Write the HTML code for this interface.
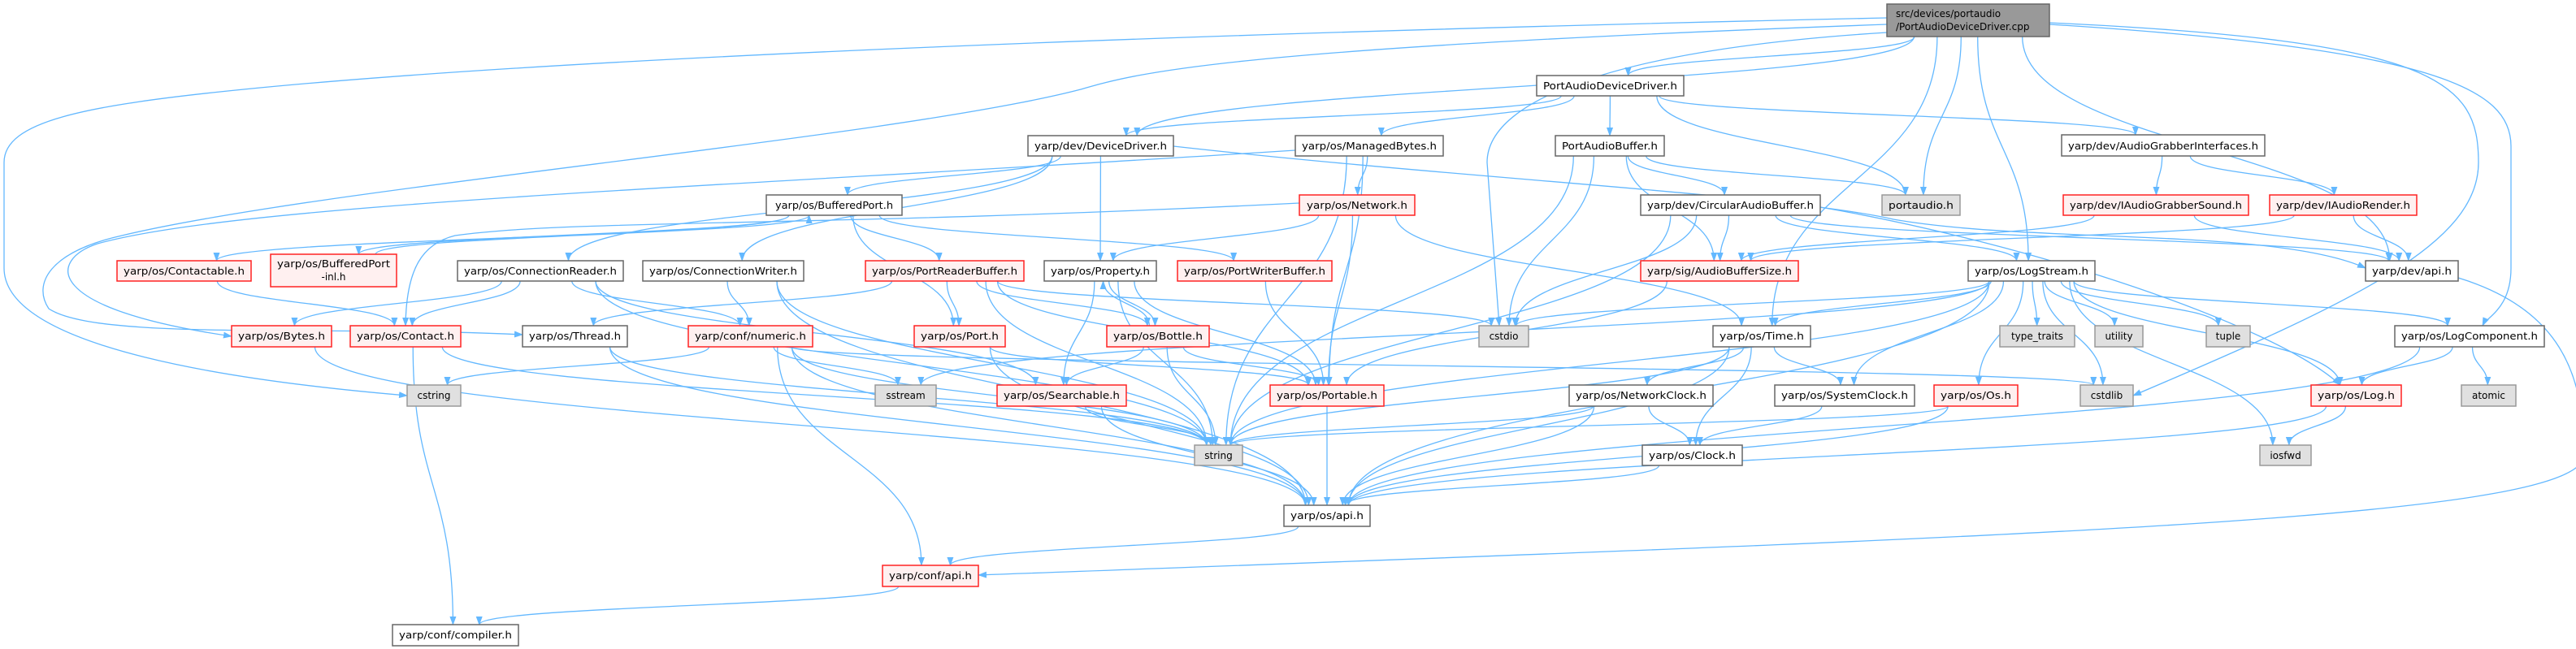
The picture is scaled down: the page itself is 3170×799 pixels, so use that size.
<!DOCTYPE html>
<html><head><meta charset="utf-8">
<style>
html,body{margin:0;padding:0;background:#fff;}
svg{display:block;}
text{font-family:"DejaVu Sans","Liberation Sans",sans-serif;font-size:12px;fill:#000;}
.w rect{fill:#fff;stroke:#666;stroke-width:1.5;}
.r rect{fill:#fff0f0;stroke:#f22;stroke-width:1.5;}
.g rect{fill:#e0e0e0;stroke:#999;stroke-width:1.5;}
.k rect{fill:#999;stroke:#666;stroke-width:1.5;}
#edges path{fill:none;stroke:#63b8ff;stroke-width:1.3;}
</style></head><body>
<svg id="s" width="3170" height="799" viewBox="0 0 3170 799" xmlns="http://www.w3.org/2000/svg">
<defs><marker id="ah" markerUnits="userSpaceOnUse" markerWidth="11" markerHeight="8" refX="10" refY="4" orient="auto"><path d="M0,0 L11,4 L0,8 z" fill="#63b8ff"/></marker></defs>
<g id="edges"></g>
<g id="nodes">
<g id="root" class="k"><rect x="2322" y="5" width="200" height="40"/><text x="2333" y="21">src/devices/portaudio</text><text x="2333" y="37">/PortAudioDeviceDriver.cpp</text></g>
<g id="padd" class="w"><rect x="1891" y="93" width="181" height="25"/><text x="1981.5" y="110" text-anchor="middle" textLength="165" lengthAdjust="spacingAndGlyphs">PortAudioDeviceDriver.h</text></g>
<g id="devdrv" class="w"><rect x="1265" y="167" width="179" height="25"/><text x="1354.5" y="184" text-anchor="middle" textLength="163" lengthAdjust="spacingAndGlyphs">yarp/dev/DeviceDriver.h</text></g>
<g id="managed" class="w"><rect x="1594" y="167" width="182" height="25"/><text x="1685" y="184" text-anchor="middle" textLength="166" lengthAdjust="spacingAndGlyphs">yarp/os/ManagedBytes.h</text></g>
<g id="pab" class="w"><rect x="1914" y="167" width="134" height="25"/><text x="1981" y="184" text-anchor="middle" textLength="118" lengthAdjust="spacingAndGlyphs">PortAudioBuffer.h</text></g>
<g id="agi" class="w"><rect x="2537" y="166" width="250" height="26"/><text x="2662" y="184" text-anchor="middle" textLength="234" lengthAdjust="spacingAndGlyphs">yarp/dev/AudioGrabberInterfaces.h</text></g>
<g id="bport" class="w"><rect x="943" y="240" width="167" height="25"/><text x="1026.5" y="257" text-anchor="middle" textLength="145" lengthAdjust="spacingAndGlyphs">yarp/os/BufferedPort.h</text></g>
<g id="network" class="r"><rect x="1599" y="240" width="142" height="25"/><text x="1670" y="257" text-anchor="middle" textLength="124" lengthAdjust="spacingAndGlyphs">yarp/os/Network.h</text></g>
<g id="cab" class="w"><rect x="2019" y="240" width="221" height="25"/><text x="2129.5" y="257" text-anchor="middle" textLength="205" lengthAdjust="spacingAndGlyphs">yarp/dev/CircularAudioBuffer.h</text></g>
<g id="portaudio" class="g"><rect x="2316" y="240" width="96" height="25"/><text x="2364" y="257" text-anchor="middle" textLength="80" lengthAdjust="spacingAndGlyphs">portaudio.h</text></g>
<g id="iags" class="r"><rect x="2539" y="240" width="228" height="25"/><text x="2653" y="257" text-anchor="middle" textLength="212" lengthAdjust="spacingAndGlyphs">yarp/dev/IAudioGrabberSound.h</text></g>
<g id="iar" class="r"><rect x="2793" y="240" width="181" height="25"/><text x="2883.5" y="257" text-anchor="middle" textLength="165" lengthAdjust="spacingAndGlyphs">yarp/dev/IAudioRender.h</text></g>
<g id="contactable" class="r"><rect x="144" y="321" width="165" height="25"/><text x="226.5" y="338" text-anchor="middle" textLength="149" lengthAdjust="spacingAndGlyphs">yarp/os/Contactable.h</text></g>
<g id="bpinl" class="r"><rect x="333" y="313" width="155" height="40"/><text x="410.5" y="329" text-anchor="middle" textLength="139" lengthAdjust="spacingAndGlyphs">yarp/os/BufferedPort</text><text x="410.5" y="345" text-anchor="middle">-inl.h</text></g>
<g id="creader" class="w"><rect x="563" y="321" width="204" height="25"/><text x="665" y="338" text-anchor="middle" textLength="188" lengthAdjust="spacingAndGlyphs">yarp/os/ConnectionReader.h</text></g>
<g id="cwriter" class="w"><rect x="791" y="321" width="198" height="25"/><text x="890" y="338" text-anchor="middle" textLength="182" lengthAdjust="spacingAndGlyphs">yarp/os/ConnectionWriter.h</text></g>
<g id="prb" class="r"><rect x="1065" y="321" width="195" height="25"/><text x="1162.5" y="338" text-anchor="middle" textLength="179" lengthAdjust="spacingAndGlyphs">yarp/os/PortReaderBuffer.h</text></g>
<g id="property" class="w"><rect x="1285" y="321" width="138" height="25"/><text x="1354" y="338" text-anchor="middle" textLength="122" lengthAdjust="spacingAndGlyphs">yarp/os/Property.h</text></g>
<g id="pwb" class="r"><rect x="1449" y="321" width="190" height="25"/><text x="1544" y="338" text-anchor="middle" textLength="174" lengthAdjust="spacingAndGlyphs">yarp/os/PortWriterBuffer.h</text></g>
<g id="abs" class="r"><rect x="2019" y="321" width="194" height="25"/><text x="2116" y="338" text-anchor="middle" textLength="178" lengthAdjust="spacingAndGlyphs">yarp/sig/AudioBufferSize.h</text></g>
<g id="logstream" class="w"><rect x="2422" y="321" width="156" height="25"/><text x="2500" y="338" text-anchor="middle" textLength="140" lengthAdjust="spacingAndGlyphs">yarp/os/LogStream.h</text></g>
<g id="devapi" class="w"><rect x="2911" y="321" width="114" height="25"/><text x="2968" y="338" text-anchor="middle" textLength="98" lengthAdjust="spacingAndGlyphs">yarp/dev/api.h</text></g>
<g id="bytes" class="r"><rect x="285" y="401" width="123" height="26"/><text x="346.5" y="418" text-anchor="middle" textLength="107" lengthAdjust="spacingAndGlyphs">yarp/os/Bytes.h</text></g>
<g id="contact" class="r"><rect x="431" y="401" width="136" height="26"/><text x="499" y="418" text-anchor="middle" textLength="120" lengthAdjust="spacingAndGlyphs">yarp/os/Contact.h</text></g>
<g id="thread" class="w"><rect x="643" y="401" width="129" height="26"/><text x="707.5" y="418" text-anchor="middle" textLength="113" lengthAdjust="spacingAndGlyphs">yarp/os/Thread.h</text></g>
<g id="numeric" class="r"><rect x="847" y="401" width="153" height="26"/><text x="923.5" y="418" text-anchor="middle" textLength="137" lengthAdjust="spacingAndGlyphs">yarp/conf/numeric.h</text></g>
<g id="port" class="r"><rect x="1125" y="401" width="112" height="26"/><text x="1181" y="418" text-anchor="middle" textLength="96" lengthAdjust="spacingAndGlyphs">yarp/os/Port.h</text></g>
<g id="bottle" class="r"><rect x="1362" y="401" width="126" height="26"/><text x="1425" y="418" text-anchor="middle" textLength="110" lengthAdjust="spacingAndGlyphs">yarp/os/Bottle.h</text></g>
<g id="cstdio" class="g"><rect x="1820" y="401" width="61" height="26"/><text x="1850.5" y="418" text-anchor="middle">cstdio</text></g>
<g id="time" class="w"><rect x="2108" y="401" width="120" height="26"/><text x="2168" y="418" text-anchor="middle" textLength="104" lengthAdjust="spacingAndGlyphs">yarp/os/Time.h</text></g>
<g id="typetraits" class="g"><rect x="2461" y="401" width="92" height="26"/><text x="2507" y="418" text-anchor="middle">type_traits</text></g>
<g id="utility" class="g"><rect x="2578" y="401" width="59" height="26"/><text x="2607.5" y="418" text-anchor="middle">utility</text></g>
<g id="tuple" class="g"><rect x="2715" y="401" width="54" height="26"/><text x="2742" y="418" text-anchor="middle">tuple</text></g>
<g id="logcomp" class="w"><rect x="2947" y="401" width="184" height="26"/><text x="3039" y="418" text-anchor="middle" textLength="168" lengthAdjust="spacingAndGlyphs">yarp/os/LogComponent.h</text></g>
<g id="cstring" class="g"><rect x="501" y="474" width="66" height="26"/><text x="534" y="491" text-anchor="middle">cstring</text></g>
<g id="sstream" class="g"><rect x="1077" y="474" width="75" height="26"/><text x="1114.5" y="491" text-anchor="middle">sstream</text></g>
<g id="searchable" class="r"><rect x="1227" y="474" width="159" height="26"/><text x="1306.5" y="491" text-anchor="middle" textLength="143" lengthAdjust="spacingAndGlyphs">yarp/os/Searchable.h</text></g>
<g id="portable" class="r"><rect x="1563" y="474" width="140" height="26"/><text x="1633" y="491" text-anchor="middle" textLength="124" lengthAdjust="spacingAndGlyphs">yarp/os/Portable.h</text></g>
<g id="netclock" class="w"><rect x="1931" y="474" width="177" height="26"/><text x="2019.5" y="491" text-anchor="middle" textLength="161" lengthAdjust="spacingAndGlyphs">yarp/os/NetworkClock.h</text></g>
<g id="sysclock" class="w"><rect x="2184" y="474" width="172" height="26"/><text x="2270" y="491" text-anchor="middle" textLength="156" lengthAdjust="spacingAndGlyphs">yarp/os/SystemClock.h</text></g>
<g id="os" class="r"><rect x="2380" y="474" width="103" height="26"/><text x="2431.5" y="491" text-anchor="middle" textLength="87" lengthAdjust="spacingAndGlyphs">yarp/os/Os.h</text></g>
<g id="cstdlib" class="g"><rect x="2560" y="474" width="65" height="26"/><text x="2592.5" y="491" text-anchor="middle">cstdlib</text></g>
<g id="log" class="r"><rect x="2844" y="474" width="111" height="26"/><text x="2899.5" y="491" text-anchor="middle" textLength="95" lengthAdjust="spacingAndGlyphs">yarp/os/Log.h</text></g>
<g id="atomic" class="g"><rect x="3029" y="474" width="67" height="26"/><text x="3062.5" y="491" text-anchor="middle">atomic</text></g>
<g id="string" class="g"><rect x="1470" y="548" width="59" height="25"/><text x="1499.5" y="565" text-anchor="middle">string</text></g>
<g id="clock" class="w"><rect x="2021" y="548" width="123" height="25"/><text x="2082.5" y="565" text-anchor="middle" textLength="107" lengthAdjust="spacingAndGlyphs">yarp/os/Clock.h</text></g>
<g id="iosfwd" class="g"><rect x="2781" y="548" width="63" height="25"/><text x="2812.5" y="565" text-anchor="middle">iosfwd</text></g>
<g id="osapi" class="w"><rect x="1580" y="622" width="106" height="26"/><text x="1633" y="639" text-anchor="middle" textLength="90" lengthAdjust="spacingAndGlyphs">yarp/os/api.h</text></g>
<g id="confapi" class="r"><rect x="1086" y="696" width="118" height="26"/><text x="1145" y="713" text-anchor="middle" textLength="102" lengthAdjust="spacingAndGlyphs">yarp/conf/api.h</text></g>
<g id="compiler" class="w"><rect x="483" y="769" width="155" height="26"/><text x="560.5" y="786" text-anchor="middle" textLength="139" lengthAdjust="spacingAndGlyphs">yarp/conf/compiler.h</text></g>
</g>
</svg>
<script>
(function(){
var E=[
"root padd","root devdrv","root portaudio","root time","root logstream","root devapi",
"padd devdrv","padd managed","padd pab","padd portaudio","padd agi",
"devdrv bport","devdrv property","devdrv creader","devdrv cwriter",
"managed network","managed portable","managed string",
"pab cab","pab abs","pab portaudio","pab cstdio","pab string",
"network property","network portable","network time",
"cab abs","cab logstream","cab cstdio","cab string","cab devapi",
"agi iags","agi iar","iags abs","iags devapi","iar abs","iar devapi",
"bport contactable","bport bpinl","bport prb","bport pwb","bport port",
"bpinl bport","contactable contact",
"creader bytes","creader contact","creader numeric","creader searchable","creader string",
"cwriter numeric","cwriter string","cwriter osapi",
"prb thread","prb bottle","prb port","prb cstdio","prb string","prb portable",
"property bottle","property searchable","property string","property portable",
"bottle property","bottle searchable","bottle string","bottle portable",
"pwb portable","abs portable","port portable","port osapi",
"bytes osapi","contact compiler","contact string","thread string","thread osapi",
"numeric cstring","numeric sstream","numeric string","numeric cstdlib","numeric confapi","numeric osapi",
"searchable string","searchable osapi","portable osapi",
"time netclock","time sysclock","time clock","time string","time osapi",
"netclock clock","netclock string","netclock osapi","sysclock clock","clock osapi",
"os string","os osapi",
"logstream time","logstream sysclock","logstream os","logstream cstdlib","logstream typetraits","logstream utility","logstream tuple","logstream iosfwd","logstream log","logstream logcomp","logstream cstdio","logstream sstream","logstream string","logstream osapi",
"logcomp log","logcomp atomic","logcomp osapi","log iosfwd","log osapi",
"osapi confapi","confapi compiler"
];
var custom=[
"M2322,22 C1500,40 700,70 300,110 C100,130 5,150 5,200 L5,330 C5,430 300,470 501,487",
"M2322,30 C1500,60 1400,90 1330,110 C1100,170 400,230 150,290 C60,310 40,350 60,380 C120,420 400,400 643,412",
"M1594,185 C900,230 300,250 120,300 C60,320 50,380 285,414",
"M1599,250 C1000,280 700,270 560,290 C520,300 500,330 499,401",
"M2322,40 C2000,60 1830,120 1830,200 L1845,401",
"M2522,30 C3000,60 3090,110 3090,180 L3090,330 C3090,380 3060,390 3055,401",
"M2522,28 C3000,50 3050,100 3050,200 C3050,300 2900,370 2625,487",
"M1444,180 C1800,220 2200,240 2330,270 C2500,300 2800,280 2911,330",
"M2240,255 C2500,300 2800,400 2880,474",
"M3025,342 C3150,380 3180,460 3180,560 C3180,640 2500,660 1204,708"
];
function box(id){var r=document.querySelector('#'+id+' rect');return {x:+r.getAttribute('x'),y:+r.getAttribute('y'),w:+r.getAttribute('width'),h:+r.getAttribute('height')};}
var g=document.getElementById('edges'),ns='http://www.w3.org/2000/svg';
function add(d){var p=document.createElementNS(ns,'path');p.setAttribute('d',d);p.setAttribute('marker-end','url(#ah)');g.appendChild(p);}
E.forEach(function(e){
 var a=e.split(' '),s=box(a[0]),t=box(a[1]);
 var scx=s.x+s.w/2,tcx=t.x+t.w/2;
 var off=Math.max(-s.w/3,Math.min(s.w/3,(tcx-scx)*0.15));
 var toff=Math.max(-t.w/4,Math.min(t.w/4,(scx-tcx)*0.05));
 var sx=scx+off,tx=tcx+toff,sy,ty;
 if(t.y>=s.y+s.h){sy=s.y+s.h;ty=t.y;}else if(t.y+t.h<=s.y){sy=s.y;ty=t.y+t.h;}else{sy=s.y+s.h;ty=t.y;}
 var dy=(ty-sy)*0.5;
 add('M'+sx+','+sy+' C'+sx+','+(sy+dy)+' '+tx+','+(ty-dy)+' '+tx+','+ty);
});
custom.forEach(add);
})();
</script>
</body></html>
